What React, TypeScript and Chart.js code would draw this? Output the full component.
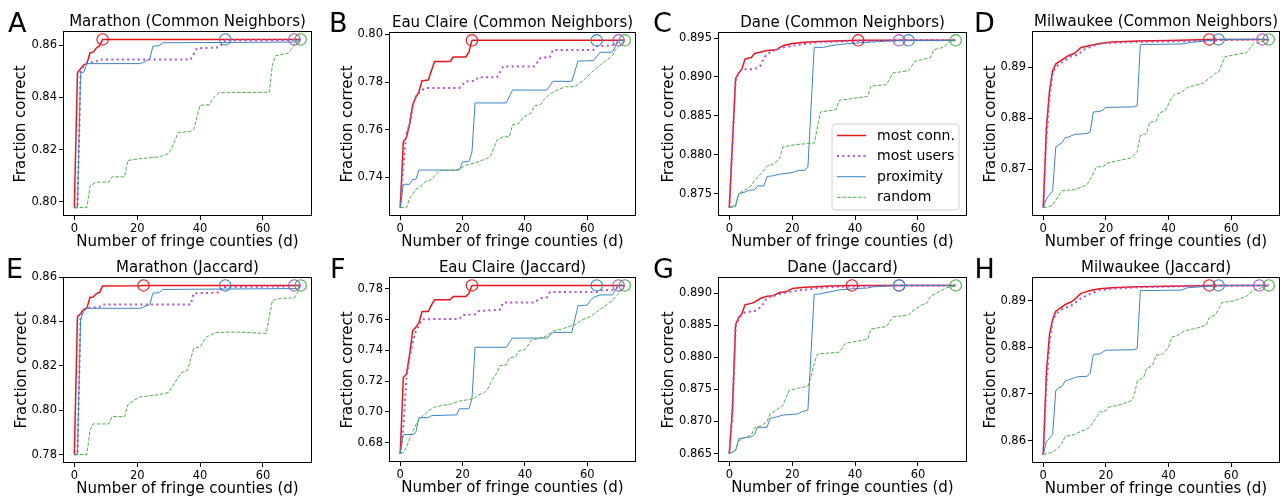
import React, { useEffect, useRef } from "react";
import { Chart, registerables } from "chart.js";

Chart.register(...registerables);

type Pt = [number, number];

const FONT = "'DejaVu Sans', 'Liberation Sans', sans-serif";
const SERIES_NAMES = ["most conn.", "most users", "proximity", "random"];
const COLORS = ["#e8161b", "#b04fc6", "#3d84c4", "#4daf4a"];
const X_TICKS = [0, 20, 40, 60];
const X_LAST = 72;
const X_LABEL = "Number of fringe counties (d)";
const Y_LABEL = "Fraction correct";

// ---------- A: Marathon (Common Neighbors) ----------
const aConn: Pt[] = [[0,0.7977],[1,0.8495],[2,0.851],[3,0.8525],[4,0.853],[5,0.8572],[6,0.8574],[7,0.859],[8,0.8598],[9,0.8623],[72,0.8623]];
const aUsers: Pt[] = [[0,0.7977],[1,0.7977],[2,0.8495],[3,0.852],[4,0.8532],[7,0.8538],[8,0.8546],[37,0.8546],[39,0.8589],[46,0.8592],[48,0.862],[69,0.862],[70,0.8623],[72,0.8623]];
const aProx: Pt[] = [[0,0.7977],[1,0.7977],[2,0.8492],[3,0.8497],[4,0.853],[21,0.853],[22,0.8535],[24,0.8548],[25,0.8597],[27,0.8599],[28,0.861],[71,0.8613],[72,0.8623]];
const aRand: Pt[] = [[0,0.7977],[4,0.7977],[5,0.806],[7,0.8075],[11,0.8075],[12,0.8095],[16,0.8095],[17,0.8158],[21,0.8165],[27,0.8172],[29,0.818],[30,0.8185],[31,0.8205],[33,0.8265],[37,0.827],[38,0.8278],[40,0.837],[43,0.8372],[44,0.8395],[46,0.8418],[62,0.842],[63,0.8525],[64,0.856],[68,0.857],[69,0.8585],[71,0.8623],[72,0.8623]];
const aMarks = [9, 70, 48, 72];
const aTicks = [0.80, 0.82, 0.84, 0.86];

// ---------- B: Eau Claire (Common Neighbors) ----------
const bConn: Pt[] = [[0,0.7272],[1,0.755],[2,0.7565],[3,0.7625],[4,0.7705],[5,0.7735],[6,0.776],[7,0.7805],[9,0.7808],[11,0.7886],[16,0.7886],[17,0.7905],[21,0.7905],[22,0.7925],[23,0.7975],[72,0.7975]];
const bUsers: Pt[] = [[0,0.7272],[1,0.745],[2,0.7585],[3,0.762],[4,0.7695],[5,0.774],[7,0.7765],[8,0.7775],[19,0.7775],[21,0.7803],[24,0.7805],[25,0.782],[31,0.782],[33,0.7865],[43,0.7865],[45,0.7902],[48,0.7905],[49,0.7935],[62,0.7935],[63,0.795],[69,0.7955],[70,0.7975],[72,0.7975]];
const bProx: Pt[] = [[0,0.7272],[1,0.737],[3,0.737],[4,0.739],[5,0.739],[6,0.743],[19,0.743],[20,0.7465],[22,0.7465],[23,0.7505],[24,0.7712],[34,0.7712],[36,0.7766],[47,0.7766],[49,0.7803],[55,0.7803],[57,0.7888],[62,0.789],[64,0.7925],[68,0.7925],[70,0.7975],[72,0.7975]];
const bRand: Pt[] = [[0,0.7272],[2,0.7272],[3,0.731],[5,0.735],[6,0.7355],[8,0.738],[10,0.739],[12,0.742],[13,0.7428],[18,0.7428],[21,0.745],[24,0.746],[28,0.748],[29,0.749],[31,0.7555],[33,0.757],[35,0.757],[36,0.762],[38,0.7625],[39,0.7645],[40,0.7655],[42,0.767],[43,0.77],[45,0.7705],[46,0.7725],[48,0.775],[51,0.777],[53,0.778],[56,0.778],[59,0.781],[61,0.7835],[63,0.786],[66,0.789],[68,0.791],[69,0.7935],[72,0.7975]];
const bMarks = [23, 70, 63, 72];
const bTicks = [0.74, 0.76, 0.78, 0.80];

// ---------- C: Dane (Common Neighbors) ----------
const cConn: Pt[] = [[0,0.8732],[2,0.8898],[3,0.8905],[4,0.891],[5,0.8923],[7,0.8925],[8,0.893],[10,0.8932],[12,0.8934],[15,0.8935],[17,0.894],[20,0.8943],[25,0.8945],[31,0.8946],[41,0.8947],[72,0.8947]];
const cUsers: Pt[] = [[0,0.8732],[2,0.8895],[3,0.8905],[4,0.891],[8,0.891],[9,0.8912],[10,0.8915],[11,0.8925],[13,0.8932],[16,0.8937],[20,0.894],[25,0.8943],[30,0.8945],[40,0.8946],[54,0.8947],[72,0.8947]];
const cProx: Pt[] = [[0,0.8732],[2,0.8735],[3,0.875],[5,0.8752],[6,0.8754],[8,0.8755],[9,0.876],[11,0.876],[12,0.8772],[14,0.8773],[16,0.8775],[20,0.8777],[22,0.878],[24,0.878],[25,0.8784],[27,0.8938],[30,0.8938],[32,0.894],[36,0.8942],[42,0.8944],[50,0.8946],[57,0.8947],[72,0.8947]];
const cRand: Pt[] = [[0,0.8732],[2,0.8733],[3,0.875],[5,0.8755],[7,0.876],[8,0.8767],[10,0.8775],[12,0.8785],[14,0.8788],[16,0.8795],[17,0.881],[21,0.8813],[27,0.8815],[28,0.8835],[29,0.8855],[34,0.8858],[35,0.887],[44,0.8875],[45,0.8888],[50,0.889],[52,0.8905],[57,0.8908],[59,0.892],[64,0.8925],[65,0.8935],[68,0.8938],[70,0.8945],[72,0.8947]];
const cMarks = [41, 54, 57, 72];
const cTicks = [0.875, 0.880, 0.885, 0.890, 0.895];

// ---------- D: Milwaukee (Common Neighbors) ----------
const dConn: Pt[] = [[0,0.8625],[1,0.878],[2,0.8854],[3,0.8893],[4,0.8906],[5,0.891],[7,0.8918],[8,0.8922],[10,0.8927],[12,0.8938],[15,0.8942],[18,0.8946],[22,0.8949],[30,0.8951],[40,0.8952],[53,0.8954],[72,0.8954]];
const dUsers: Pt[] = [[0,0.8625],[1,0.876],[2,0.884],[3,0.8888],[4,0.89],[5,0.8905],[7,0.8913],[9,0.8921],[11,0.8924],[13,0.8934],[17,0.8944],[20,0.8947],[30,0.8949],[50,0.8951],[60,0.8953],[70,0.8954],[72,0.8954]];
const dProx: Pt[] = [[0,0.8625],[1,0.8642],[2,0.865],[3,0.8658],[4,0.8744],[5,0.8748],[6,0.8752],[7,0.8762],[8,0.8763],[10,0.8768],[14,0.877],[15,0.8773],[16,0.8812],[18,0.8813],[19,0.8816],[20,0.8821],[29,0.8822],[30,0.8825],[31,0.8944],[44,0.8945],[47,0.8948],[50,0.895],[56,0.8954],[72,0.8954]];
const dRand: Pt[] = [[0,0.8625],[1,0.8625],[3,0.863],[4,0.864],[6,0.8658],[10,0.866],[13,0.8667],[14,0.867],[15,0.868],[17,0.8705],[19,0.8705],[21,0.8713],[24,0.8717],[28,0.8722],[30,0.8735],[31,0.8766],[33,0.877],[34,0.8792],[36,0.8793],[37,0.881],[39,0.8815],[41,0.884],[42,0.8846],[44,0.885],[46,0.886],[51,0.8868],[53,0.8878],[55,0.8888],[56,0.889],[58,0.892],[62,0.8925],[65,0.8928],[67,0.8945],[71,0.8952],[72,0.8954]];
const dMarks = [53, 70, 56, 72];
const dTicks = [0.87, 0.88, 0.89];

// ---------- E: Marathon (Jaccard) ----------
const eConn: Pt[] = [[0,0.78],[1,0.8421],[2,0.8435],[3,0.8455],[4,0.846],[5,0.8509],[6,0.851],[7,0.8525],[8,0.853],[9,0.856],[21,0.8561],[22,0.8562],[72,0.8562]];
const eUsers: Pt[] = [[0,0.78],[1,0.78],[2,0.843],[3,0.845],[4,0.846],[8,0.8465],[9,0.8476],[37,0.8476],[38,0.8527],[46,0.853],[47,0.8555],[69,0.8558],[70,0.8562],[72,0.8562]];
const eProx: Pt[] = [[0,0.78],[1,0.78],[2,0.841],[3,0.8445],[4,0.8459],[21,0.8459],[22,0.8465],[24,0.8476],[25,0.8527],[27,0.853],[28,0.8544],[71,0.8548],[72,0.8562]];
const eRand: Pt[] = [[0,0.78],[4,0.78],[5,0.7911],[6,0.7938],[11,0.7938],[12,0.7971],[16,0.7971],[17,0.8024],[19,0.8045],[21,0.806],[27,0.807],[30,0.808],[32,0.8125],[34,0.8168],[36,0.818],[38,0.8279],[40,0.8285],[42,0.833],[45,0.835],[52,0.8352],[61,0.8346],[63,0.8494],[66,0.8505],[70,0.8505],[71,0.853],[72,0.8562]];
const eMarks = [22, 70, 48, 72];
const eTicks = [0.78, 0.80, 0.82, 0.84, 0.86];

// ---------- F: Eau Claire (Jaccard) ----------
const fConn: Pt[] = [[0,0.6728],[1,0.7225],[2,0.7245],[3,0.737],[4,0.7528],[5,0.755],[6,0.758],[7,0.7653],[9,0.7653],[10,0.7695],[11,0.7729],[16,0.7729],[17,0.775],[21,0.775],[22,0.777],[23,0.7823],[72,0.7823]];
const fUsers: Pt[] = [[0,0.6728],[1,0.69],[2,0.722],[3,0.735],[4,0.745],[5,0.7525],[6,0.756],[7,0.7603],[19,0.7605],[20,0.763],[24,0.7635],[25,0.7655],[32,0.7665],[33,0.7711],[43,0.7711],[45,0.774],[47,0.7745],[48,0.778],[63,0.778],[64,0.779],[69,0.7795],[70,0.7823],[72,0.7823]];
const fProx: Pt[] = [[0,0.6728],[1,0.6852],[4,0.6852],[5,0.6865],[6,0.6962],[9,0.6962],[10,0.6975],[18,0.698],[19,0.702],[22,0.702],[23,0.7085],[24,0.742],[34,0.742],[36,0.748],[47,0.748],[49,0.7517],[55,0.7517],[57,0.769],[60,0.7695],[61,0.7725],[62,0.7745],[64,0.7761],[68,0.7761],[70,0.7823],[72,0.7823]];
const fRand: Pt[] = [[0,0.6728],[1,0.6735],[2,0.677],[3,0.6825],[4,0.687],[5,0.6915],[6,0.695],[7,0.697],[8,0.6985],[9,0.7005],[11,0.703],[13,0.704],[16,0.705],[19,0.707],[22,0.708],[24,0.709],[25,0.711],[27,0.7125],[28,0.7145],[29,0.719],[31,0.7255],[32,0.7301],[34,0.7305],[35,0.735],[37,0.736],[38,0.7395],[40,0.7405],[42,0.7465],[45,0.748],[47,0.7495],[49,0.7525],[52,0.754],[54,0.7555],[56,0.7565],[58,0.7595],[61,0.762],[63,0.765],[66,0.7695],[68,0.7725],[70,0.777],[72,0.7823]];
const fMarks = [23, 70, 63, 72];
const fTicks = [0.68, 0.70, 0.72, 0.74, 0.76, 0.78];

// ---------- G: Dane (Jaccard) ----------
const gConn: Pt[] = [[0,0.865],[1,0.872],[2,0.8851],[3,0.8862],[4,0.8868],[5,0.8882],[7,0.8884],[8,0.8886],[10,0.8892],[12,0.8895],[14,0.8896],[16,0.8901],[18,0.8902],[20,0.8907],[24,0.8909],[28,0.891],[32,0.8911],[39,0.8912],[72,0.8912]];
const gUsers: Pt[] = [[0,0.865],[1,0.871],[2,0.8848],[3,0.886],[4,0.8866],[5,0.887],[8,0.8872],[9,0.8875],[10,0.8878],[11,0.8885],[12,0.8893],[15,0.8897],[18,0.8901],[22,0.8904],[28,0.8908],[35,0.891],[45,0.8911],[54,0.8912],[72,0.8912]];
const gProx: Pt[] = [[0,0.865],[2,0.8655],[3,0.8673],[5,0.8675],[7,0.8676],[8,0.868],[9,0.8691],[12,0.8691],[13,0.8705],[15,0.8707],[17,0.871],[20,0.8711],[22,0.8712],[23,0.8715],[25,0.8718],[27,0.8898],[29,0.8899],[32,0.8902],[35,0.8905],[40,0.8907],[44,0.8908],[46,0.891],[50,0.8911],[54,0.8912],[72,0.8912]];
const gRand: Pt[] = [[0,0.865],[2,0.8655],[3,0.867],[5,0.8675],[7,0.8679],[8,0.869],[10,0.8693],[12,0.87],[13,0.8712],[15,0.8718],[17,0.8725],[19,0.8748],[22,0.8752],[25,0.8755],[26,0.877],[27,0.879],[28,0.8805],[35,0.8808],[37,0.8822],[44,0.8828],[45,0.8844],[50,0.8848],[52,0.8863],[57,0.8866],[59,0.8875],[61,0.8881],[63,0.8885],[64,0.8895],[67,0.8903],[69,0.8908],[72,0.8912]];
const gMarks = [39, 54, 54, 72];
const gTicks = [0.865, 0.870, 0.875, 0.880, 0.885, 0.890];

// ---------- H: Milwaukee (Jaccard) ----------
const hConn: Pt[] = [[0,0.857],[1,0.8746],[2,0.8828],[3,0.886],[4,0.8878],[5,0.8882],[7,0.8892],[9,0.8898],[10,0.8903],[12,0.8916],[15,0.8922],[18,0.8926],[22,0.8928],[30,0.893],[45,0.8932],[53,0.8933],[72,0.8933]];
const hUsers: Pt[] = [[0,0.857],[1,0.872],[2,0.881],[3,0.8858],[4,0.887],[5,0.8878],[7,0.8885],[9,0.889],[10,0.8895],[12,0.8905],[15,0.8915],[18,0.8923],[22,0.8926],[30,0.8929],[50,0.8932],[69,0.8933],[72,0.8933]];
const hProx: Pt[] = [[0,0.857],[1,0.8598],[2,0.8605],[3,0.8613],[4,0.8708],[5,0.8713],[6,0.8716],[7,0.8728],[8,0.873],[10,0.8735],[11,0.8737],[14,0.8738],[15,0.8745],[16,0.8785],[18,0.8786],[19,0.879],[20,0.8794],[29,0.8795],[30,0.8798],[31,0.8922],[44,0.8923],[46,0.8928],[50,0.893],[56,0.8933],[72,0.8933]];
const hRand: Pt[] = [[0,0.857],[3,0.8575],[5,0.8585],[6,0.8595],[7,0.8609],[10,0.8613],[12,0.862],[14,0.8625],[15,0.863],[17,0.865],[18,0.8661],[20,0.8664],[21,0.8672],[24,0.8676],[28,0.8685],[29,0.8695],[30,0.8728],[32,0.8735],[33,0.8755],[35,0.8762],[36,0.8783],[38,0.8785],[40,0.88],[41,0.8822],[43,0.8826],[45,0.8835],[50,0.8843],[52,0.8848],[53,0.8864],[55,0.887],[57,0.8896],[61,0.89],[63,0.8905],[65,0.891],[67,0.8922],[72,0.8933]];
const hMarks = [53, 69, 56, 72];
const hTicks = [0.86, 0.87, 0.88, 0.89];

const LETTERS = ["A", "B", "C", "D", "E", "F", "G", "H"];
const TITLES = [
  "Marathon (Common Neighbors)", "Eau Claire (Common Neighbors)", "Dane (Common Neighbors)", "Milwaukee (Common Neighbors)",
  "Marathon (Jaccard)", "Eau Claire (Jaccard)", "Dane (Jaccard)", "Milwaukee (Jaccard)",
];
const SERIES = [
  [aConn, aUsers, aProx, aRand], [bConn, bUsers, bProx, bRand], [cConn, cUsers, cProx, cRand], [dConn, dUsers, dProx, dRand],
  [eConn, eUsers, eProx, eRand], [fConn, fUsers, fProx, fRand], [gConn, gUsers, gProx, gRand], [hConn, hUsers, hProx, hRand],
];
const MARKS = [aMarks, bMarks, cMarks, dMarks, eMarks, fMarks, gMarks, hMarks];
const Y_TICKS = [aTicks, bTicks, cTicks, dTicks, eTicks, fTicks, gTicks, hTicks];
const DECIMALS = [2, 2, 3, 2, 2, 2, 3, 2];

// ---------- layout (page pixels) ----------
const BOXES = [
  { l: 63, t: 31, r: 312, b: 216 }, { l: 389, t: 32, r: 636, b: 216 }, { l: 718, t: 32, r: 967, b: 216 }, { l: 1032, t: 31, r: 1280, b: 216 },
  { l: 63, t: 277, r: 312, b: 463 }, { l: 389, t: 277, r: 636, b: 462 }, { l: 718, t: 277, r: 967, b: 462 }, { l: 1032, t: 277, r: 1280, b: 463 },
];
const LETTER_POS = [
  { x: 8, y: 31.7 }, { x: 329, y: 31.7 }, { x: 653, y: 31.7 }, { x: 974, y: 31.7 },
  { x: 6, y: 278 }, { x: 330, y: 278 }, { x: 653, y: 278 }, { x: 974.5, y: 278 },
];
const YLAB_OFF = [37.5, 37, 44.5, 37, 37, 37, 44.5, 37];

const PAD_L = 60, PAD_T = 10, PAD_R = 8, PAD_B = 22;
const LETTER_FS = 27;

const STYLES = [
  { width: 1.5, dash: [] as number[] },
  { width: 2, dash: [2, 3.3] },
  { width: 1, dash: [] as number[] },
  { width: 1, dash: [3.7, 1.6] },
];

const framePlugin = {
  id: "frame",
  afterDatasetsDraw(chart: any) {
    const { ctx, chartArea: a } = chart;
    ctx.save();
    ctx.strokeStyle = "#000";
    ctx.lineWidth = 1;
    ctx.strokeRect(Math.round(a.left) + 0.5, Math.round(a.top) + 0.5, Math.round(a.right - a.left) - 1, Math.round(a.bottom - a.top) - 1);
    ctx.restore();
  },
};

const legendPlugin = {
  id: "inlegend",
  afterDraw(chart: any) {
    if (!chart.options.plugins.inlegend || !chart.options.plugins.inlegend.show) return;
    const { ctx, chartArea: a } = chart;
    const w = 127, h = 86;
    const x = a.right - 8 - w, y = a.bottom - 6 - h;
    ctx.save();
    ctx.beginPath();
    const r = 3;
    ctx.moveTo(x + r, y);
    ctx.lineTo(x + w - r, y);
    ctx.arcTo(x + w, y, x + w, y + r, r);
    ctx.lineTo(x + w, y + h - r);
    ctx.arcTo(x + w, y + h, x + w - r, y + h, r);
    ctx.lineTo(x + r, y + h);
    ctx.arcTo(x, y + h, x, y + h - r, r);
    ctx.lineTo(x, y + r);
    ctx.arcTo(x, y, x + r, y, r);
    ctx.closePath();
    ctx.fillStyle = "rgba(255,255,255,0.85)";
    ctx.fill();
    ctx.strokeStyle = "#d0d0d0";
    ctx.lineWidth = 1;
    ctx.stroke();
    for (let i = 0; i < 4; i++) {
      const cy = y + 11.5 + i * 20.6;
      ctx.beginPath();
      ctx.strokeStyle = COLORS[i];
      ctx.lineWidth = STYLES[i].width;
      ctx.setLineDash(STYLES[i].dash);
      ctx.moveTo(x + 5, cy);
      ctx.lineTo(x + 34, cy);
      ctx.stroke();
      ctx.setLineDash([]);
      ctx.fillStyle = "#000";
      ctx.font = `14px ${FONT}`;
      ctx.textBaseline = "middle";
      ctx.textAlign = "left";
      ctx.fillText(SERIES_NAMES[i], x + 45, cy + 0.5);
    }
    ctx.restore();
  },
};

function Panel({ idx }: { idx: number }) {
  const ref = useRef<HTMLCanvasElement | null>(null);
  const box = BOXES[idx];
  const w = box.r - box.l + PAD_L + PAD_R;
  const h = box.b - box.t + PAD_T + PAD_B;

  useEffect(() => {
    const series = SERIES[idx];
    const ys = series.flat().map((q) => q[1]);
    const lo = Math.min(...ys);
    const hi = Math.max(...ys);
    const pad = (hi - lo) * 0.05;
    const conn = series[0];
    const finalY = conn[conn.length - 1][1];
    const xPad = X_LAST * 0.05;
    const dec = DECIMALS[idx];

    const datasets: any[] = [];
    datasets.push({
      label: "marks",
      data: MARKS[idx].map((x) => ({ x, y: finalY })),
      showLine: false,
      pointRadius: 5.7,
      pointHoverRadius: 5.7,
      pointBorderColor: COLORS,
      pointBackgroundColor: "rgba(0,0,0,0)",
      pointBorderWidth: 1.1,
    });
    for (let i = 3; i >= 0; i--) {
      datasets.push({
        label: SERIES_NAMES[i],
        data: series[i].map(([x, y]) => ({ x, y })),
        borderColor: COLORS[i],
        backgroundColor: COLORS[i],
        borderWidth: STYLES[i].width,
        borderDash: STYLES[i].dash,
        borderJoinStyle: "round",
        borderCapStyle: "butt",
        pointRadius: 0,
        pointHoverRadius: 0,
        tension: 0,
        fill: false,
      });
    }

    const chart = new Chart(ref.current as HTMLCanvasElement, {
      type: "line",
      data: { datasets },
      plugins: [framePlugin, legendPlugin],
      options: {
        responsive: false,
        maintainAspectRatio: false,
        animation: false,
        events: [],
        layout: { padding: { left: 0, top: PAD_T, right: PAD_R, bottom: 0 } },
        plugins: {
          legend: { display: false },
          tooltip: { enabled: false },
          title: { display: false },
          inlegend: { show: idx === 2 },
        } as any,
        scales: {
          x: {
            type: "linear",
            min: -xPad,
            max: X_LAST + xPad,
            afterBuildTicks: (s: any) => {
              s.ticks = X_TICKS.map((v) => ({ value: v }));
            },
            afterFit: (s: any) => {
              s.height = PAD_B;
              s.paddingLeft = 0;
              s.paddingRight = 0;
            },
            ticks: {
              autoSkip: false,
              maxRotation: 0,
              padding: 2,
              color: "#000",
              font: { family: FONT, size: 11.5 },
              callback: (v: any) => String(v),
            },
            grid: { drawOnChartArea: false, drawTicks: true, tickLength: 4, color: "#000", lineWidth: 1 },
            border: { display: false },
          },
          y: {
            type: "linear",
            min: lo - pad,
            max: hi + pad,
            afterBuildTicks: (s: any) => {
              s.ticks = Y_TICKS[idx].map((v) => ({ value: v }));
            },
            afterFit: (s: any) => {
              s.width = PAD_L;
              s.paddingTop = 0;
              s.paddingBottom = 0;
            },
            ticks: {
              autoSkip: false,
              padding: 2,
              color: "#000",
              font: { family: FONT, size: 11.5 },
              callback: (v: any) => Number(v).toFixed(dec),
            },
            grid: { drawOnChartArea: false, drawTicks: true, tickLength: 4, color: "#000", lineWidth: 1 },
            border: { display: false },
          },
        },
      } as any,
    });
    return () => chart.destroy();
  }, [idx]);

  return (
    <canvas
      ref={ref}
      width={w}
      height={h}
      style={{ position: "absolute", left: box.l - PAD_L, top: box.t - PAD_T, width: w, height: h }}
    />
  );
}

const textBase: React.CSSProperties = {
  position: "absolute",
  fontFamily: FONT,
  color: "#000",
  whiteSpace: "nowrap",
};

export default function App() {
  const fs = 15;
  return (
    <div style={{ position: "absolute", left: 0, top: 0, width: 1281, height: 498, background: "#fff", overflow: "hidden" }}>
      {BOXES.map((box, i) => {
        const cx = (box.l + box.r) / 2;
        const cy = (box.t + box.b) / 2;
        return (
          <React.Fragment key={i}>
            <Panel idx={i} />
            <div style={{ ...textBase, fontSize: fs, lineHeight: `${fs}px`, left: cx, top: box.t - 4 - 0.846 * fs, transform: "translateX(-50%)" }}>
              {TITLES[i]}
            </div>
            <div style={{ ...textBase, fontSize: fs, lineHeight: `${fs}px`, left: cx, top: box.b + 30.5 - 0.846 * fs, transform: "translateX(-50%)" }}>
              {X_LABEL}
            </div>
            <div style={{ ...textBase, fontSize: fs, lineHeight: `${fs}px`, left: box.l - YLAB_OFF[i] - 0.346 * fs, top: cy, transform: "translate(-50%, -50%) rotate(-90deg)" }}>
              {Y_LABEL}
            </div>
            <div style={{ ...textBase, fontSize: LETTER_FS, lineHeight: `${LETTER_FS}px`, left: LETTER_POS[i].x, top: LETTER_POS[i].y - 0.846 * LETTER_FS }}>
              {LETTERS[i]}
            </div>
          </React.Fragment>
        );
      })}
    </div>
  );
}
